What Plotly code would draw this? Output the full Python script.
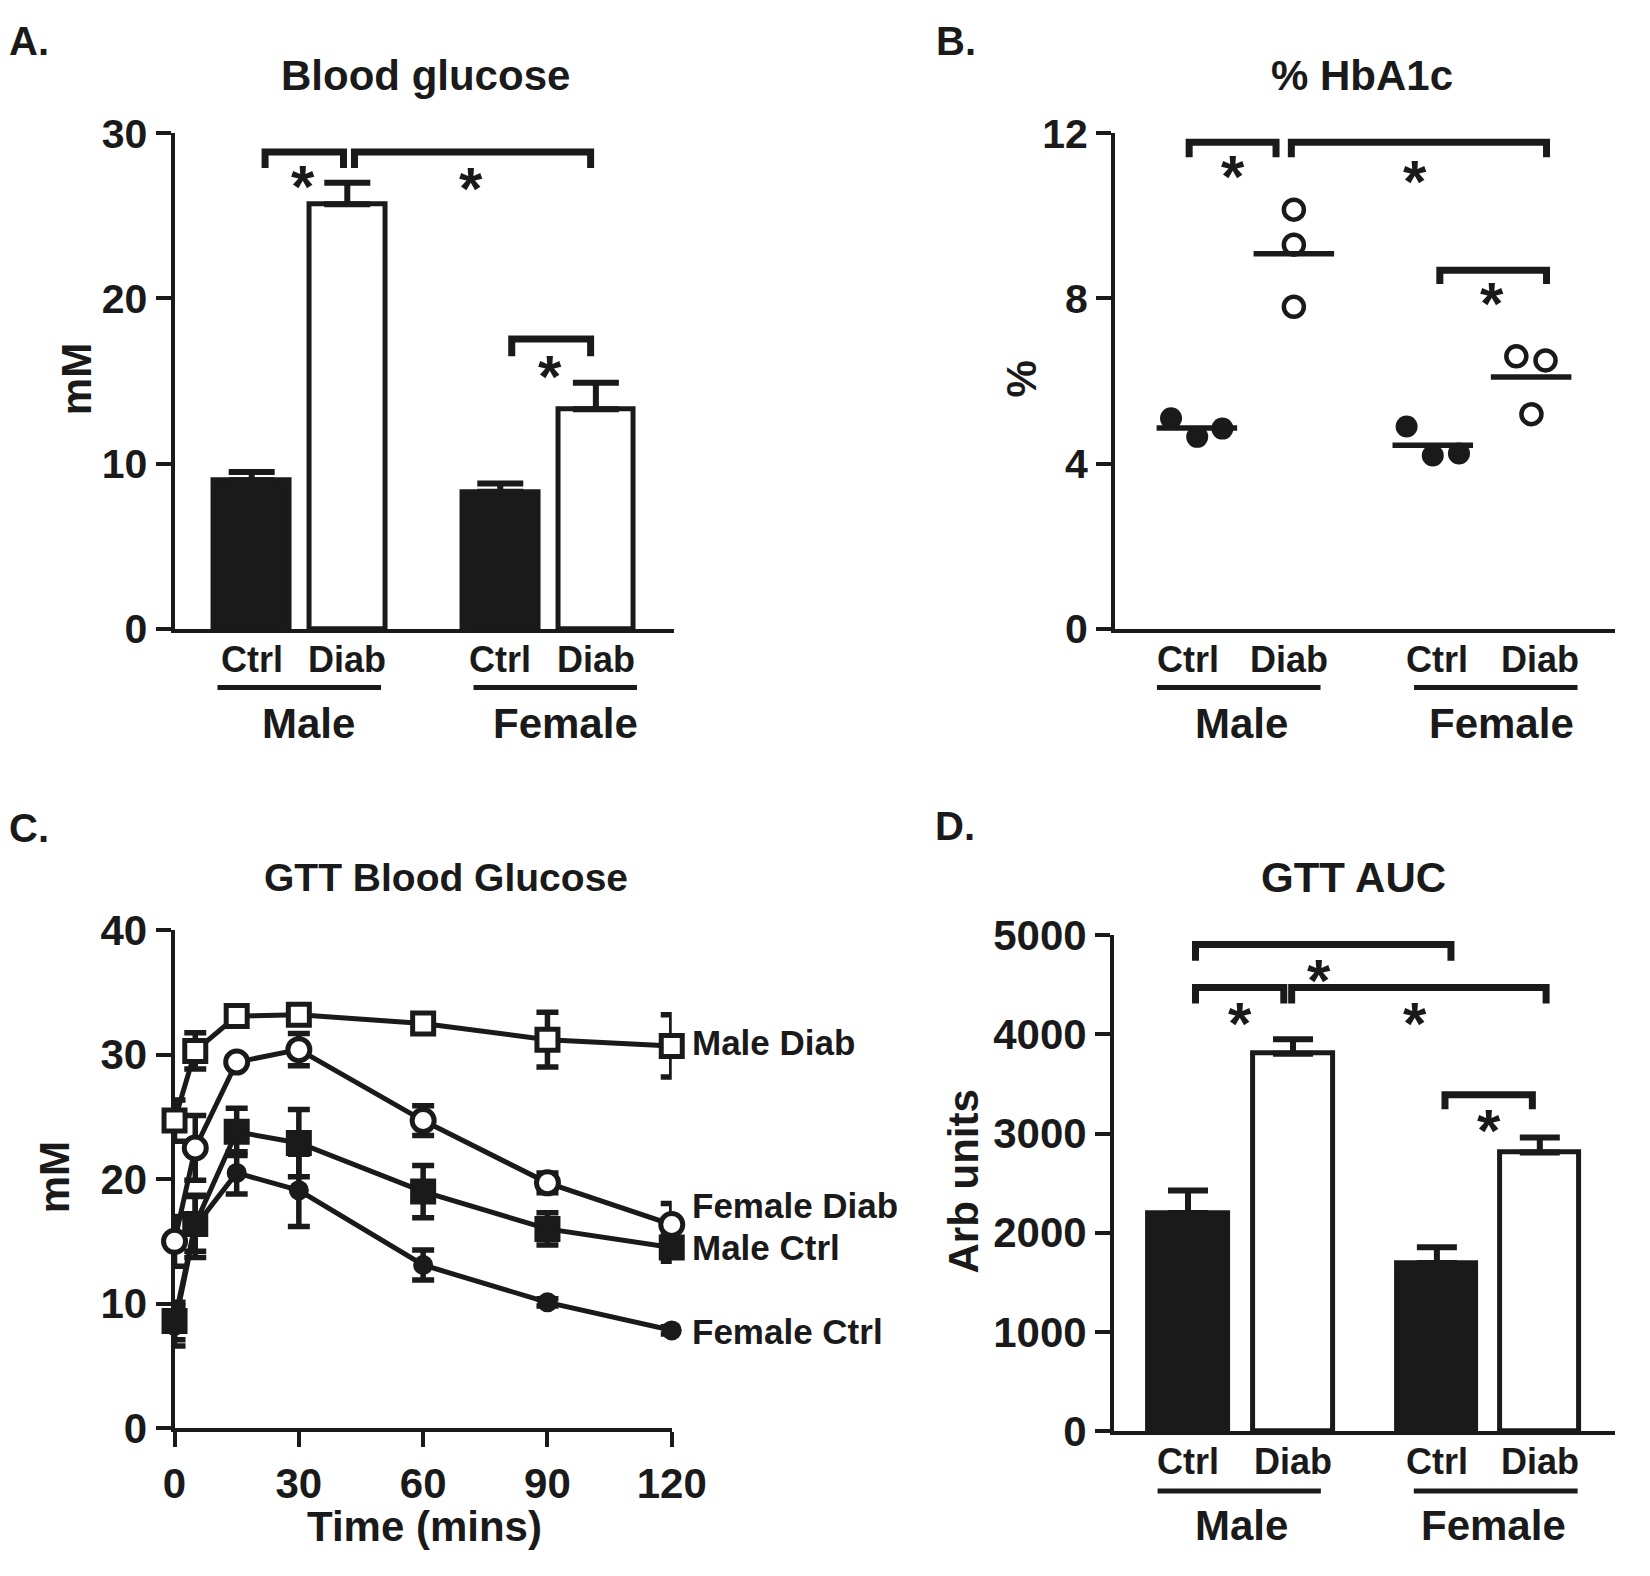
import numpy as np
import plotly.graph_objects as go

INK = "#1a1a1a"
FONT = "Liberation Sans, Arial, sans-serif"
W, H = 1650, 1576

# ---- data ----
conditions = ["Ctrl", "Diab", "Ctrl", "Diab"]
groups = ["Male", "Female"]

# A. Blood glucose (mM): mean and SEM, male ctrl / male diab / female ctrl / female diab
glucose_pos = [0, 1, 2.6, 3.6]
glucose_mean = [9.0, 25.7, 8.3, 13.3]
glucose_sem = [0.5, 1.3, 0.5, 1.6]

# B. % HbA1c, individual animals
hba1c_label_pos = [0, 1, 2.47, 3.5]
hba1c_x = [[-0.17, 0.09, 0.34], [1.05, 1.05, 1.05], [2.17, 2.43, 2.69], [3.26, 3.55, 3.41]]
hba1c_vals = [[5.1, 4.65, 4.85], [10.15, 9.3, 7.8], [4.9, 4.2, 4.25], [6.6, 6.5, 5.2]]

# C. GTT blood glucose (mM) over time
gtt_time = [0, 5, 15, 30, 60, 90, 120]
male_diab = [24.7, 30.3, 33.1, 33.2, 32.5, 31.2, 30.7]
male_diab_err = [1.65, 1.45, 0.4, 0.4, 0.5, 2.2, 2.5]
female_diab = [15.0, 22.5, 29.4, 30.4, 24.7, 19.7, 16.35]
female_diab_err = [2.0, 2.6, 0.4, 1.3, 1.2, 0.8, 1.7]
male_ctrl = [8.6, 16.4, 23.8, 22.9, 19.0, 16.0, 14.5]
male_ctrl_err = [1.5, 2.2, 1.9, 2.7, 2.1, 1.3, 1.1]
female_ctrl = [8.2, 16.2, 20.5, 19.1, 13.1, 10.1, 7.85]
female_ctrl_err = [1.6, 2.5, 1.7, 2.9, 1.2, 0.3, 0.3]
gtt_labels = ["Male Diab", "Female Diab", "Male Ctrl", "Female Ctrl"]
gtt_label_y = [31.0, 17.9, 14.5, 7.8]

# D. GTT AUC (arb units)
auc_pos = [0, 1, 2.37, 3.35]
auc_mean = [2200, 3805, 1695, 2810]
auc_sem = [225, 145, 158, 150]

# significance brackets: (x0, x1, top, tip, star_x, star_y)
brackets_a = [(0.14, 0.96, 28.86, 27.9, 0.54, 27.5),
              (1.075, 3.545, 28.86, 27.9, 2.29, 27.4),
              (2.72, 3.545, 17.55, 16.5, 3.12, 16.0)]
brackets_b = [(0.01, 0.873, 11.78, 11.42, 0.45, 11.24),
              (1.025, 3.56, 11.78, 11.42, 2.25, 11.13),
              (2.50, 3.56, 8.68, 8.35, 3.02, 8.18)]
brackets_d = [(0.071, 2.504, 4907, 4744, 1.243, 4660),
              (0.071, 0.912, 4474, 4312, 0.491, 4228),
              (0.987, 3.41, 4474, 4312, 2.164, 4228),
              (2.447, 3.279, 3392, 3245, 2.87, 3156)]


def py(p):
    return 1 - p / H


def font(size):
    return dict(family=FONT, size=size, color=INK, weight="bold")


fig = go.Figure()
ann = []
shapes = []

fills = [INK, "white", INK, "white"]

# ---- A ----
fig.add_trace(go.Bar(
    x=glucose_pos, y=glucose_mean, width=0.79, xaxis="x", yaxis="y",
    marker=dict(color=fills, line=dict(color=INK, width=5)),
    error_y=dict(type="data", symmetric=False, array=glucose_sem, arrayminus=[0] * 4,
                 color=INK, thickness=6, width=23)))

# ---- B ----
for i, (xs, vs) in enumerate(zip(hba1c_x, hba1c_vals)):
    filled = i % 2 == 0
    fig.add_trace(go.Scatter(
        x=xs, y=vs, mode="markers", xaxis="x2", yaxis="y2", cliponaxis=False,
        marker=dict(symbol="circle", size=22 if filled else 20,
                    color=INK if filled else "white",
                    line=dict(color=INK, width=0 if filled else 4.5))))
    c = float(np.mean(xs))
    m = float(np.mean(vs))
    fig.add_trace(go.Scatter(
        x=[c - 0.4, c + 0.4], y=[m, m], mode="lines", xaxis="x2", yaxis="y2",
        line=dict(color=INK, width=5.5)))

# ---- C ----
series = [
    (female_ctrl, female_ctrl_err, "circle", 20, INK, 0),
    (male_ctrl, male_ctrl_err, "square", 23, INK, 3),
    (female_diab, female_diab_err, "circle", 22, "white", 5),
    (male_diab, male_diab_err, "square", 21, "white", 5),
]
for vals, err, sym, size, col, lw in series:
    fig.add_trace(go.Scatter(
        x=gtt_time, y=vals, mode="lines+markers", xaxis="x3", yaxis="y3", cliponaxis=False,
        line=dict(color=INK, width=5),
        marker=dict(symbol=sym, size=size, color=col, line=dict(color=INK, width=lw)),
        error_y=dict(type="data", array=err, color=INK, thickness=5.5, width=11)))

# series labels sit right of the last time point (outside the x range, so in paper units)
for txt, yv in zip(gtt_labels, gtt_label_y):
    ann.append(dict(text=txt, x=698 / W, y=py(1448.3 - yv * 12.83), xref="paper", yref="paper",
                    xanchor="left", yanchor="middle", showarrow=False, font=font(35)))

# ---- D ----
fig.add_trace(go.Bar(
    x=auc_pos, y=auc_mean, width=0.755, xaxis="x4", yaxis="y4",
    marker=dict(color=fills, line=dict(color=INK, width=5)),
    error_y=dict(type="data", symmetric=False, array=auc_sem, arrayminus=[0] * 4,
                 color=INK, thickness=6, width=20)))

# ---- brackets ----
for br, xa, ya in [(brackets_a, "x", "y"), (brackets_b, "x2", "y2"), (brackets_d, "x4", "y4")]:
    for x0, x1, top, tip, sx, sy in br:
        fig.add_trace(go.Scatter(
            x=[x0, x0, x1, x1], y=[tip, top, top, tip], mode="lines", xaxis=xa, yaxis=ya,
            cliponaxis=False, line=dict(color=INK, width=7)))
        ann.append(dict(text="*", x=sx, y=sy, xref=xa, yref=ya, showarrow=False,
                        yanchor="middle", yshift=-12, font=font(60)))

# ---- category labels, underlines and group names ----
cat_sets = [
    ("x", glucose_pos, 656, 685, 722, [(-0.358, 1.353), (2.32, 4.03)], [0.594, 3.28]),
    ("x2", hba1c_label_pos, 656, 685, 722, [(-0.31, 1.315), (2.244, 3.868)], [0.533, 3.117]),
    ("x4", auc_pos, 1483, 1513, 1549, [(-0.29, 1.265), (2.15, 3.71)], [0.513, 2.91]),
]
for xa, pos, y_lab, y_line, y_grp, lines, grp_x in cat_sets:
    for p, c in zip(pos, conditions):
        ann.append(dict(text=c, x=p, y=py(y_lab), xref=xa, yref="paper", showarrow=False,
                        yanchor="middle", font=font(36)))
    for (a, b), g, gx in zip(lines, groups, grp_x):
        shapes.append(dict(type="line", xref=xa, yref="paper", x0=a, x1=b,
                           y0=py(y_line), y1=py(y_line), line=dict(color=INK, width=5)))
        ann.append(dict(text=g, x=gx, y=py(y_grp), xref=xa, yref="paper", showarrow=False,
                        yanchor="middle", font=font(42)))

# ---- titles, panel letters, axis titles ----
for txt, x, y, size in [("Blood glucose", 426, 54, 42), ("% HbA1c", 1390, 54, 42),
                        ("GTT Blood Glucose", 447, 881, 39), ("GTT AUC", 1381, 881, 42),
                        ("Time (mins)", 425, 1550, 42)]:
    ann.append(dict(text=txt, x=x / W, y=py(y), xref="paper", yref="paper", showarrow=False,
                    xanchor="center", yanchor="middle", font=font(size)))
for txt, x, y in [("A.", 0, 19), ("B.", 954, 19), ("C.", 0, 830), ("D.", 953, 828)]:
    ann.append(dict(text=txt, x=x / W, y=py(y), xref="paper", yref="paper", showarrow=False,
                    xanchor="left", yanchor="middle", xshift=-5, font=font(40)))
for txt, x, y in [("mM", 66, 367), ("%", 1039, 367), ("mM", 44, 1190), ("Arb units", 979, 1194)]:
    ann.append(dict(text=txt, x=x / W, y=py(y), xref="paper", yref="paper", showarrow=False,
                    textangle=-90, xanchor="center", yanchor="middle", font=font(42)))


def yax(domain, rng, step, anchor, size):
    return dict(domain=domain, range=rng, tickvals=list(range(rng[0], rng[1] + 1, step)),
                anchor=anchor, showline=True, linewidth=4, linecolor=INK, ticks="outside",
                ticklen=15, tickwidth=4, tickcolor=INK, showgrid=False, zeroline=False,
                tickfont=font(size), layer="below traces")


def xcat(domain, rng, anchor):
    return dict(domain=domain, range=rng, anchor=anchor, showline=True, linewidth=4,
                linecolor=INK, ticks="", showticklabels=False, showgrid=False, zeroline=False)


fig.update_layout(
    width=W, height=H, margin=dict(l=0, r=0, t=0, b=0),
    paper_bgcolor="white", plot_bgcolor="white", showlegend=False,
    bargap=0,
    xaxis=xcat([167.3 / W, 681.4 / W], [-0.807, 4.417], "y"),
    yaxis=yax([py(624.6), py(113.6)], [0, 30], 10, "x", 41),
    xaxis2=xcat([1135.4 / W, 1.0], [-0.726, 4.24], "y2"),
    yaxis2=yax([py(624.6), py(113.6)], [0, 12], 4, "x2", 41),
    xaxis3=dict(domain=[167.3 / W, 679.1 / W], range=[0, 120], tickvals=[0, 30, 60, 90, 120],
                anchor="y3", showline=True, linewidth=4, linecolor=INK, ticks="outside",
                ticklen=15, tickwidth=4, tickcolor=INK, showgrid=False, zeroline=False,
                tickfont=font(42), layer="below traces"),
    yaxis3=yax([py(1448.3), py(935)], [0, 40], 10, "x3", 42),
    xaxis4=xcat([1134.4 / W, 1.0], [-0.704, 4.066], "y4"),
    yaxis4=yax([py(1451.3), py(940.3)], [0, 5000], 1000, "x4", 42),
    annotations=ann, shapes=shapes,
)

fig.write_html("out.html", config={"displayModeBar": False},
               post_script="document.body.style.margin='0';document.body.style.overflow='hidden';")
